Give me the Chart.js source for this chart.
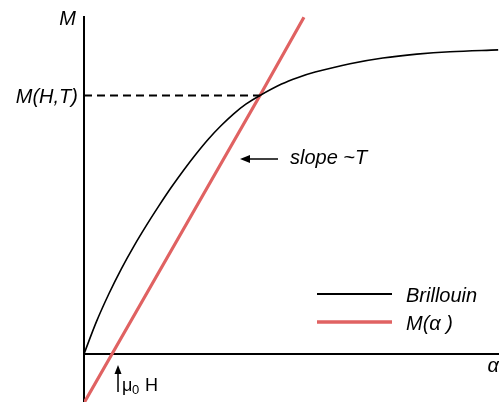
<!DOCTYPE html>
<html>
<head>
<meta charset="utf-8">
<script src="https://cdn.jsdelivr.net/npm/chart.js@4/dist/chart.umd.min.js"></script>
<style>
  html, body { margin: 0; padding: 0; background: #fff; }
  #wrap { width: 499px; height: 402px; position: relative; }
</style>
</head>
<body>
<div id="wrap"><canvas id="c"></canvas></div>
<script>
// Brillouin magnetisation curve M(alpha), reduced units
const brillouinAlpha = [0, 0.3, 0.6, 0.9, 1.2, 1.5, 1.8, 2.1, 2.4, 2.7, 3.0, 3.3, 3.6, 3.9, 4.24, 4.76, 5.16, 5.57, 6.41, 7.2, 8.02, 8.82, 9.98];
const brillouinM     = [0, 0.108, 0.201, 0.284, 0.359, 0.428, 0.493, 0.555, 0.613, 0.667, 0.717, 0.761, 0.8, 0.833, 0.862, 0.9, 0.922, 0.94, 0.968, 0.987, 1.0, 1.008, 1.014];

// Straight line M(alpha) with slope ~ T, offset by mu0 H on the alpha axis
const lineAlpha = [0.013, 0.675, 4.24, 5.3];
const lineM     = [-0.16, 0, 0.862, 1.123];

// Self-consistent solution where the two curves meet
const alphaHT = 4.24;
const mHT = 0.862;
const mu0H = 0.675;

const legendLabels = ['Brillouin', 'M(\u03b1 )'];
const RED = '#e06262';
const FONT = '"Liberation Sans", Arial, sans-serif';

const toPoints = (xs, ys) => xs.map((x, i) => ({ x, y: ys[i] }));

const annotate = {
  id: 'annotate',
  beforeDatasetsDraw(chart) {
    const { ctx, chartArea: a, scales: { x, y } } = chart;
    const x0 = x.getPixelForValue(0), y0 = y.getPixelForValue(0);
    ctx.save();
    ctx.strokeStyle = '#000';
    ctx.lineWidth = 2;
    ctx.beginPath();
    ctx.moveTo(x0, a.top); ctx.lineTo(x0, a.bottom);
    ctx.moveTo(x0, y0); ctx.lineTo(a.right, y0);
    ctx.stroke();
    ctx.restore();
  },
  afterDatasetsDraw(chart) {
    const { ctx, chartArea: a, scales: { x, y } } = chart;
    const x0 = x.getPixelForValue(0), y0 = y.getPixelForValue(0);
    const yHT = y.getPixelForValue(mHT);
    ctx.save();
    ctx.fillStyle = '#000';
    ctx.strokeStyle = '#000';
    ctx.font = 'italic 20px ' + FONT;
    ctx.textBaseline = 'alphabetic';

    // axis titles
    ctx.textAlign = 'right';
    ctx.fillText('M', x0 - 8, a.top + 9);
    ctx.fillText('M(H,T)', x0 - 6, yHT + 8);
    ctx.fillText('\u03b1', a.right, y0 + 18);

    // slope annotation with arrow pointing at the line
    ctx.textAlign = 'left';
    ctx.fillText('slope ~T', 290, 164);
    ctx.lineWidth = 1.5;
    ctx.beginPath(); ctx.moveTo(278, 159); ctx.lineTo(246, 159); ctx.stroke();
    ctx.beginPath(); ctx.moveTo(240, 159); ctx.lineTo(250, 155); ctx.lineTo(250, 163); ctx.closePath(); ctx.fill();

    // mu0 H marker below the alpha axis
    const xh = x.getPixelForValue(mu0H) + 6;
    ctx.beginPath(); ctx.moveTo(xh, 392); ctx.lineTo(xh, 371); ctx.stroke();
    ctx.beginPath(); ctx.moveTo(xh, 365); ctx.lineTo(xh - 3.5, 374); ctx.lineTo(xh + 3.5, 374); ctx.closePath(); ctx.fill();
    ctx.font = '18px ' + FONT;
    ctx.fillText('\u03bc', xh + 4, 391);
    ctx.font = '13px ' + FONT;
    ctx.fillText('0', xh + 14, 394);
    ctx.font = '18px ' + FONT;
    ctx.fillText('H', xh + 27, 391);

    // legend
    const rows = [{ c: '#000', w: 1.8, yy: 294 }, { c: RED, w: 3.5, yy: 322 }];
    ctx.font = 'italic 20px ' + FONT;
    rows.forEach((r, i) => {
      ctx.strokeStyle = r.c; ctx.lineWidth = r.w;
      ctx.beginPath(); ctx.moveTo(317, r.yy); ctx.lineTo(392, r.yy); ctx.stroke();
      ctx.fillStyle = '#000';
      ctx.fillText(legendLabels[i], 406, r.yy + 8);
    });
    ctx.restore();
  }
};

new Chart(document.getElementById('c'), {
  type: 'scatter',
  data: {
    datasets: [
      {
        label: 'M(H,T)',
        data: [{ x: 0, y: mHT }, { x: alphaHT, y: mHT }],
        showLine: true, borderColor: '#000', borderWidth: 1.8,
        borderDash: [8, 5], pointRadius: 0
      },
      {
        label: legendLabels[0],
        data: toPoints(brillouinAlpha, brillouinM),
        showLine: true, borderColor: '#000', borderWidth: 1.6,
        tension: 0.35, pointRadius: 0
      },
      {
        label: legendLabels[1],
        data: toPoints(lineAlpha, lineM),
        showLine: true, borderColor: RED, borderWidth: 3.2, pointRadius: 0
      }
    ]
  },
  options: {
    responsive: true,
    maintainAspectRatio: false,
    animation: false,
    layout: { padding: { left: 84, top: 16, right: 0, bottom: 0 } },
    plugins: { legend: { display: false }, tooltip: { enabled: false } },
    scales: {
      x: { type: 'linear', min: 0, max: 10, display: false },
      y: { type: 'linear', min: -0.16, max: 1.127, display: false }
    }
  },
  plugins: [annotate]
});
</script>
</body>
</html>
